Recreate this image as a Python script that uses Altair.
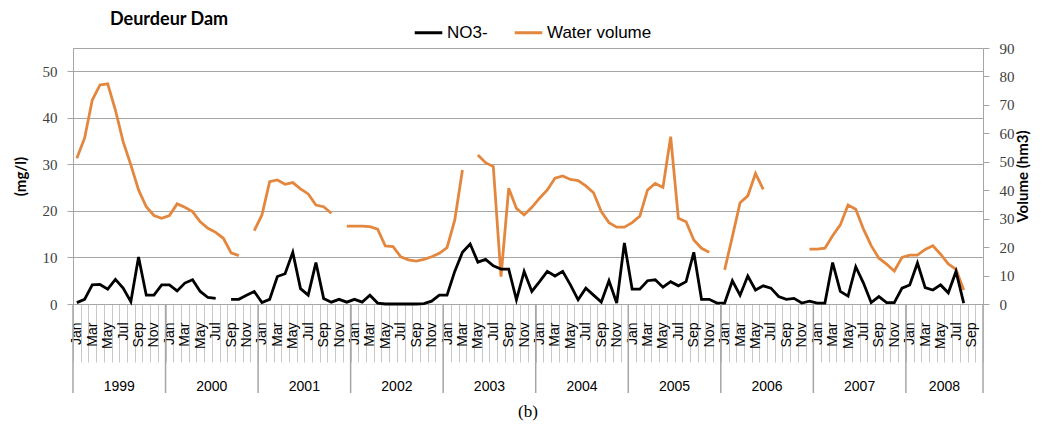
import pandas as pd
import altair as alt

years = list(range(1999, 2009))
month_names = ['Jan', 'Feb', 'Mar', 'Apr', 'May', 'Jun',
               'Jul', 'Aug', 'Sep', 'Oct', 'Nov', 'Dec']
months_in_year = [12, 12, 12, 12, 12, 12, 12, 12, 12, 10]
months = [f'{y} {m}' for y, n in zip(years, months_in_year) for m in month_names[:n]]

# NO3- (mg/l), Jan 1999 .. Oct 2008, None = no measurement
no3 = [0.3, 1.0, 4.1, 4.2, 3.2, 5.3, 3.4, 0.5, 10.1, 1.9, 1.9, 4.1,
       4.1, 2.8, 4.5, 5.2, 2.7, 1.4, 1.2, None, 1.0, 1.0, 1.9, 2.7,
       0.3, 1.0, 5.9, 6.5, 11.1, 3.3, 1.9, 8.9, 1.2, 0.4, 1.0, 0.4,
       1.0, 0.4, 1.9, 0.2, 0.0, 0.0, 0.0, 0.0, 0.0, 0.1, 0.6, 1.9,
       1.9, 7.0, 11.1, 12.9, 9.0, 9.6, 8.2, 7.5, 7.5, 0.9, 7.0, 2.7,
       4.8, 7.0, 6.0, 7.0, 4.1, 0.9, 3.4, 1.9, 0.4, 5.0, 0.2, 13.1,
       3.2, 3.2, 5.0, 5.2, 3.6, 4.8, 3.9, 4.8, 11.1, 1.0, 1.0, 0.2,
       0.2, 5.0, 1.9, 6.0, 3.0, 3.9, 3.4, 1.6, 1.0, 1.2, 0.2, 0.6,
       0.2, 0.2, 8.9, 2.7, 1.7, 8.0, 4.5, 0.3, 1.6, 0.3, 0.3, 3.4,
       4.1, 8.8, 3.5, 3.0, 4.1, 2.4, 7.0, 0.2, None, None]

# water volume (hm3)
volume = [51.2, 58.3, 71.7, 77.0, 77.4, 68.2, 57.1, 48.9, 40.1, 34.2, 31.1, 30.1,
          31.1, 35.2, 34.0, 32.5, 28.9, 26.6, 25.2, 23.1, 18.0, 17.0, None, 25.8,
          31.3, 43.0, 43.6, 42.1, 42.7, 40.5, 38.7, 34.8, 34.2, 31.9, None, 27.4,
          27.4, 27.4, 27.2, 26.3, 20.4, 20.2, 16.6, 15.5, 15.1, 15.7, 16.6, 17.8,
          19.8, 29.5, 47.1, None, 52.4, 49.7, 48.3, 9.6, 40.7, 33.6, 31.3, 34.0,
          37.2, 40.1, 44.2, 45.0, 43.8, 43.4, 41.5, 39.1, 32.5, 28.6, 27.0, 27.0,
          28.6, 30.9, 40.1, 42.4, 41.0, 58.8, 30.1, 28.9, 22.5, 19.6, 18.2, None,
          12.0, 23.7, 35.6, 38.0, 45.9, 40.3, None, None, None, None, None, 19.3,
          19.3, 19.6, 24.0, 27.8, 34.8, 33.3, 26.3, 20.5, 16.1, 14.0, 11.6, 16.4,
          17.2, 17.2, 19.2, 20.5, 17.5, 14.1, 12.2, 4.9, None, None]

series = ['NO3-', 'Water volume']
colors = ['#000000', '#e3873f']

year_labels = [str(y) for y in years]
year_start = [f'{y} Jan' for y in years]
year_mid = [f'{y} Jul' for y in years[:-1]] + ['2008 Jun']

df_no3 = pd.DataFrame({'month': months, 'value': no3, 'series': series[0]})
df_vol = pd.DataFrame({'month': months, 'value': volume, 'series': series[1]})
df_years = pd.DataFrame({'year': year_labels, 'start': year_start, 'mid': year_mid})
df_end = pd.DataFrame({'month': [months[-1]]})

grey = '#a6a6a6'
x_scale = alt.Scale(type='band', domain=months, paddingInner=0, paddingOuter=0)
x_axis = alt.Axis(
    title=None, labelAngle=270, labelAlign='right', labelBaseline='middle',
    labelExpr="test(/Jan|Mar|May|Jul|Sep|Nov/, datum.value) ? slice(datum.value, 5) : ''",
    labelOverlap=False, labelFont='Liberation Sans', labelFontSize=14,
    labelColor='black', labelPadding=-40, tickSize=58, tickColor='#c8c8c8',
    tickBand='extent', domainColor=grey, grid=False,
)


def month_x(field, band):
    return alt.X(f'{field}:O', scale=x_scale, axis=x_axis, bandPosition=band)


color = alt.Color('series:N', scale=alt.Scale(domain=series, range=colors),
                  legend=alt.Legend(title=None, orient='none', legendX=340, legendY=-31,
                                    direction='horizontal', symbolType='stroke',
                                    symbolStrokeWidth=3, symbolSize=760,
                                    labelFont='Liberation Sans', labelFontSize=17,
                                    labelColor='black', labelOffset=3, columnPadding=20))

vol_line = alt.Chart(df_vol).mark_line(strokeWidth=2.8).encode(
    month_x('month', 0.5),
    alt.Y('value:Q', scale=alt.Scale(domain=[0, 90], nice=False),
          axis=alt.Axis(orient='right', values=list(range(0, 100, 10)), grid=False,
                        tickSize=6, tickColor=grey, domainColor=grey,
                        labelFont='Liberation Serif', labelFontSize=15,
                        labelColor='#404040', labelPadding=10,
                        title='Volume (hm3)', titleAngle=270, titleFont='Lato',
                        titleFontWeight='bold', titleFontSize=15, titleColor='black',
                        titlePadding=16)),
    color=color,
)

no3_line = alt.Chart(df_no3).mark_line(strokeWidth=2.8).encode(
    month_x('month', 0.5),
    alt.Y('value:Q', scale=alt.Scale(domain=[0, 55], nice=False),
          axis=alt.Axis(orient='left', values=list(range(0, 60, 10)), grid=True,
                        gridColor=grey, tickSize=6, tickColor=grey, domainColor=grey,
                        labelFont='Liberation Serif', labelFontSize=15,
                        labelColor='#404040', labelPadding=10,
                        title='(mg/l)', titleFont='Lato', titleFontWeight='bold',
                        titleFontSize=15, titleColor='black', titlePadding=14)),
    color=color,
)

year_rules = alt.Chart(df_years).mark_rule(color=grey, strokeWidth=1.5).encode(
    month_x('start', 0), y=alt.value(256), y2=alt.value(345))

end_rule = alt.Chart(df_end).mark_rule(color=grey, strokeWidth=1.5).encode(
    month_x('month', 1), y=alt.value(256), y2=alt.value(345))

year_text = alt.Chart(df_years).mark_text(
    font='Liberation Sans', fontSize=14, color='black', baseline='middle').encode(
    month_x('mid', 0), y=alt.value(339), text='year:N')

title = alt.Chart(pd.DataFrame({'t': ['Deurdeur Dam']})).mark_text(
    font='Lato', fontSize=18, fontWeight='bold', color='black',
    align='left', baseline='middle').encode(
    x=alt.value(37), y=alt.value(-28), text='t:N')

caption = alt.Chart(pd.DataFrame({'t': ['(b)']})).mark_text(
    font='Liberation Serif', fontSize=17, color='black', baseline='middle').encode(
    x=alt.value(455), y=alt.value(364), text='t:N')

chart = alt.layer(
    vol_line, no3_line, year_rules, end_rule, year_text, title, caption
).resolve_scale(y='independent').properties(
    width=910, height=256,
    autosize=alt.AutoSizeParams(type='none'),
    padding={'left': 65, 'top': 40, 'right': 58, 'bottom': 118},
).configure_view(stroke=grey)

chart.save('out.html', embed_options={'renderer': 'svg', 'actions': False})
